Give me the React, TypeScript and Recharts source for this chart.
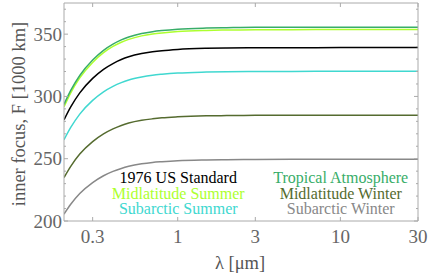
import { Legend, Line, LineChart, XAxis, YAxis } from "recharts";

const FONT = "'Liberation Serif', 'Times New Roman', serif";
const FRAME = "#aaaaaa";
const TICK_TEXT = "#666666";

// wavelength in micrometres
const LAMBDA = [0.2, 0.22, 0.25, 0.3, 0.35, 0.4, 0.45, 0.5, 0.6, 0.7, 0.8, 1, 1.5, 2, 3, 5, 10, 30];

// inner focus F in units of 1000 km
const US_STANDARD = [281.2, 291.6, 302.9, 314.5, 321.8, 326.4, 329.6, 331.8, 334.4, 335.8, 336.7, 337.7, 338.6, 338.9, 339.1, 339.1, 339.2, 339.2];
const MID_SUMMER = [291.7, 302.9, 314.9, 327.3, 335.1, 340.1, 343.5, 345.8, 348.6, 350.1, 351.0, 352.1, 353.0, 353.3, 353.6, 353.6, 353.7, 353.7];
const SUB_SUMMER = [265.2, 275.1, 285.8, 296.8, 303.7, 308.1, 311.1, 313.2, 315.6, 317.0, 317.8, 318.8, 319.6, 319.9, 320.1, 320.1, 320.2, 320.2];
const TROPICAL = [293.6, 304.8, 316.8, 329.2, 337.0, 342.0, 345.4, 347.7, 350.5, 352.0, 352.9, 354.0, 354.9, 355.2, 355.5, 355.5, 355.6, 355.6];
const MID_WINTER = [234.9, 243.9, 253.7, 263.7, 269.9, 273.9, 276.7, 278.6, 280.8, 282.0, 282.8, 283.6, 284.4, 284.6, 284.8, 284.9, 284.9, 284.9];
const SUB_WINTER = [205.5, 213.4, 222.0, 230.8, 236.3, 239.8, 242.2, 243.9, 245.9, 247.0, 247.6, 248.4, 249.0, 249.2, 249.4, 249.5, 249.5, 249.5];

const X_TICKS = [0.3, 1, 3, 10, 30];
const Y_TICKS = [200, 210, 220, 230, 240, 250, 260, 270, 280, 290, 300, 310, 320, 330, 340, 350, 360, 370];
const Y_LABELS = [200, 250, 300, 350];

const SERIES = [
  { key: "us", name: "1976 US Standard", color: "#000000", values: US_STANDARD },
  { key: "ms", name: "Midlatitude Summer", color: "#adff2f", values: MID_SUMMER },
  { key: "ss", name: "Subarctic Summer", color: "#40d8d0", values: SUB_SUMMER },
  { key: "tr", name: "Tropical Atmosphere", color: "#38ad68", values: TROPICAL },
  { key: "mw", name: "Midlatitude Winter", color: "#556b2f", values: MID_WINTER },
  { key: "sw", name: "Subarctic Winter", color: "#888888", values: SUB_WINTER },
];

const data = LAMBDA.map((l, i) => {
  const row: Record<string, number> = { l };
  SERIES.forEach((s) => (row[s.key] = s.values[i]));
  return row;
});

const BottomTick = ({ x, y, payload }: any) => (
  <g>
    <line x1={x} y1={y} x2={x} y2={y - 4} stroke={FRAME} />
    <text x={x} y={y + 22} textAnchor="middle" fill={TICK_TEXT} fontSize={19} fontFamily={FONT}>
      {payload.value}
    </text>
  </g>
);

const TopTick = ({ x, y }: any) => <line x1={x} y1={y} x2={x} y2={y + 4} stroke={FRAME} />;

const LeftTick = ({ x, y, payload }: any) => {
  const major = Y_LABELS.includes(payload.value);
  return (
    <g>
      <line x1={x} y1={y} x2={x + (major ? 4 : 2)} y2={y} stroke={FRAME} />
      {major && (
        <text x={x - 2} y={y} dy="0.35em" textAnchor="end" fill={TICK_TEXT} fontSize={19} fontFamily={FONT}>
          {payload.value}
        </text>
      )}
    </g>
  );
};

const RightTick = ({ x, y, payload }: any) => {
  const major = Y_LABELS.includes(payload.value);
  return <line x1={x} y1={y} x2={x - (major ? 4 : 2)} y2={y} stroke={FRAME} />;
};

const YTitle = () => (
  <text
    x={19}
    y={114}
    transform="rotate(-90 19 114)"
    textAnchor="middle"
    dy="0.35em"
    fill="#555555"
    fontSize={18.5}
    fontFamily={FONT}
  >
    inner focus, F [1000 km]
  </text>
);

const XTitle = () => (
  <text x={240} y={263} textAnchor="middle" dy="0.35em" fill="#555555" fontSize={18.5} fontFamily={FONT}>
    λ [μm]
  </text>
);

const LegendBox = () => {
  const col = (list: typeof SERIES) => (
    <div style={{ width: 162.5, textAlign: "center" }}>
      {list.map((s) => (
        <div key={s.key} style={{ color: s.color, height: 15.5, lineHeight: "15.5px", whiteSpace: "nowrap" }}>
          {s.name}
        </div>
      ))}
    </div>
  );
  return (
    <div style={{ display: "flex", fontFamily: FONT, fontSize: 16 }}>
      {col(SERIES.slice(0, 3))}
      {col(SERIES.slice(3, 6))}
    </div>
  );
};

export default function App() {
  return (
    <div style={{ position: "absolute", left: 0, top: 0, background: "#fff" }}>
      <LineChart width={436} height={276} data={data} margin={{ top: 2, right: 17, bottom: 54, left: 63 }}>
        <XAxis
          dataKey="l"
          type="number"
          scale="log"
          domain={[0.2, 30]}
          ticks={X_TICKS}
          allowDataOverflow
          height={1}
          tickSize={0}
          tickMargin={0}
          tickLine={false}
          stroke={FRAME}
          tick={<BottomTick />}
          interval={0}
          label={<XTitle />}
        />
        <XAxis
          xAxisId="top"
          orientation="top"
          dataKey="l"
          type="number"
          scale="log"
          domain={[0.2, 30]}
          ticks={X_TICKS}
          allowDataOverflow
          height={1}
          tickSize={0}
          tickMargin={0}
          tickLine={false}
          stroke={FRAME}
          tick={<TopTick />}
          interval={0}
        />
        <YAxis
          type="number"
          domain={[200, 375]}
          ticks={Y_TICKS}
          allowDataOverflow
          width={1}
          tickSize={0}
          tickMargin={0}
          tickLine={false}
          stroke={FRAME}
          tick={<LeftTick />}
          interval={0}
          label={<YTitle />}
        />
        <YAxis
          yAxisId="right"
          orientation="right"
          type="number"
          domain={[200, 375]}
          ticks={Y_TICKS}
          allowDataOverflow
          width={1}
          tickSize={0}
          tickMargin={0}
          tickLine={false}
          stroke={FRAME}
          tick={<RightTick />}
          interval={0}
        />
        {SERIES.map((s) => (
          <Line
            key={s.key}
            dataKey={s.key}
            name={s.name}
            type="monotone"
            stroke={s.color}
            strokeWidth={1.5}
            dot={false}
            isAnimationActive={false}
          />
        ))}
        <Legend
          layout="horizontal"
          verticalAlign="middle"
          align="center"
          content={<LegendBox />}
          wrapperStyle={{ position: "absolute", left: 97, top: 170, width: 325 }}
        />
      </LineChart>
    </div>
  );
}
